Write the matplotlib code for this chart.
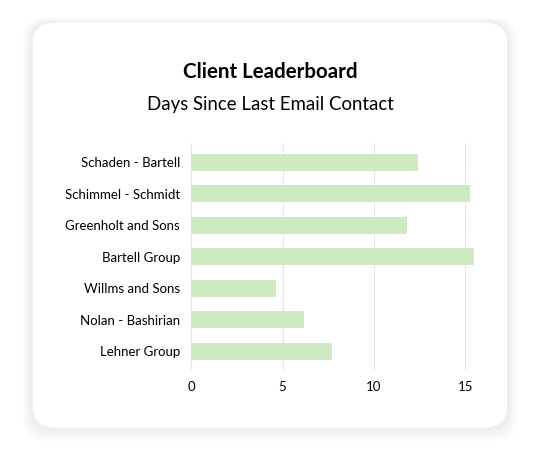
import matplotlib
matplotlib.use("Agg")
import matplotlib.pyplot as plt
from matplotlib.patches import FancyBboxPatch

# Datos
clientes = ["Schaden - Bartell", "Schimmel - Schmidt", "Greenholt and Sons", "Bartell Group",
            "Willms and Sons", "Nolan - Bashirian", "Lehner Group"]
dias = [12.4, 15.25, 11.8, 15.5, 4.65, 6.2, 7.7]
ticks = [0, 5, 10, 15]

fig = plt.figure(figsize=(5.4, 4.68), dpi=100)
fig.patch.set_facecolor("white")

# Sombra suave y tarjeta
for i in range(6):
    d = 0.003 * (i + 1)
    fig.patches.append(FancyBboxPatch((0.06 - d, 0.085 - d * 1.5), 0.88 + 2 * d, 0.868 + 2 * d,
                                      boxstyle="round,pad=0,rounding_size=0.045",
                                      transform=fig.transFigure, facecolor="black",
                                      edgecolor="none", alpha=0.012, zorder=0))
fig.patches.append(FancyBboxPatch((0.06, 0.085), 0.88, 0.868,
                                  boxstyle="round,pad=0,rounding_size=0.045",
                                  transform=fig.transFigure, facecolor="white",
                                  edgecolor="#f0f0f0", linewidth=0.8, zorder=1))

fig.text(0.5, 0.846, "Client Leaderboard", ha="center", va="center",
         fontsize=14.8, fontweight="bold", color="black", family="Lato")
fig.text(0.5, 0.777, "Days Since Last Email Contact", ha="center", va="center",
         fontsize=13.4, color="black", family="Lato")

ax = fig.add_axes([0.354, 0.209, 0.528, 0.485])
ax.set_zorder(2)
ax.patch.set_alpha(0)
y = range(len(clientes))
ax.barh(y, dias, height=0.55, color="#cfe9c2", zorder=2)
ax.set_yticks(list(y))
ax.set_yticklabels(clientes, fontsize=9.5, family="Lato")
ax.invert_yaxis()
ax.set_xlim(0, 15.6)
ax.set_xticks(ticks)
ax.set_xticklabels([str(t) for t in ticks], fontsize=9.5, family="Lato")
ax.grid(axis="x", color="#e6e6e6", linewidth=0.8, zorder=0)
for s in ax.spines.values():
    s.set_visible(False)
ax.tick_params(length=0, pad=8)

fig.savefig("out.png", dpi=100)
